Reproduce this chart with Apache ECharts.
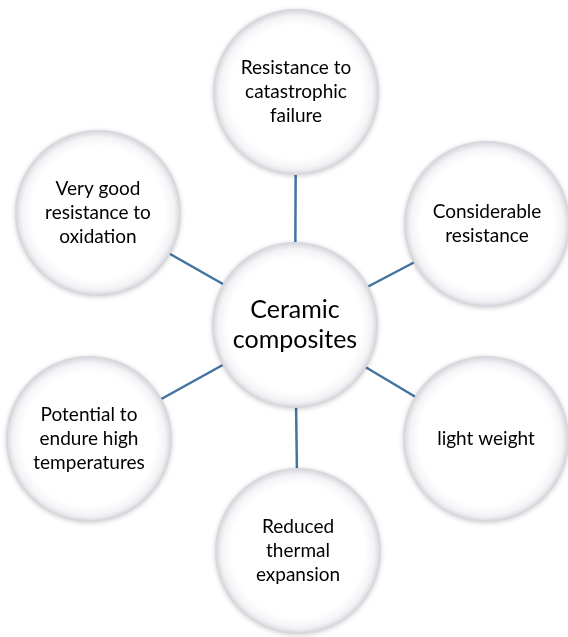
<!DOCTYPE html>
<html><head><meta charset="utf-8">
<script src="https://cdn.jsdelivr.net/npm/echarts@6/dist/echarts.min.js"></script>
<style>html,body{margin:0;padding:0;background:#fff}#c{width:568px;height:637px}</style>
</head><body><div id="c"></div>
<script>
// node labels
const labels = [
  "Ceramic\ncomposites",
  "Resistance to\ncatastrophic\nfailure",
  "Considerable\nresistance",
  "light weight",
  "Reduced\nthermal\nexpansion",
  "Potential to\nendure high\ntemperatures",
  "Very good\nresistance to\noxidation"
];
// node positions in the diagram's coordinate space
const nodeX = [295, 296, 487, 486, 298, 89, 98];
const nodeY = [325, 92, 224, 439, 551, 439, 213];
// links: from centre node to each outer node
const linkTargets = [1, 2, 3, 4, 5, 6];

const fill = {
  type: 'radial', x: 0.5, y: 0.5, r: 0.5,
  colorStops: [
    {offset: 0, color: '#ffffff'},
    {offset: 0.8, color: '#ffffff'},
    {offset: 0.92, color: '#f4f4f7'},
    {offset: 0.98, color: '#e8e8ed'},
    {offset: 1, color: '#dcdce2'}
  ]
};

const data = labels.map((name, i) => ({
  name: name,
  value: [nodeX[i], nodeY[i]],
  symbolSize: 164,
  label: {
    show: true,
    formatter: name,
    color: '#000',
    fontFamily: 'Lato',
    fontSize: i === 0 ? 25 : 19,
    lineHeight: i === 0 ? 30 : 24,
    align: 'center'
  }
}));

const links = linkTargets.map(t => ({source: 0, target: t}));

const chart = echarts.init(document.getElementById('c'));
chart.setOption({
  animation: false,
  backgroundColor: '#fff',
  grid: {left: 0, right: 0, top: 0, bottom: 0},
  xAxis: {type: 'value', min: 0, max: 568, show: false},
  yAxis: {type: 'value', min: 0, max: 637, inverse: true, show: false},
  series: [{
    type: 'graph',
    coordinateSystem: 'cartesian2d',
    symbol: 'circle',
    data: data,
    links: links,
    itemStyle: {
      color: fill,
      borderColor: '#d8d8de',
      borderWidth: 2,
      shadowBlur: 5,
      shadowColor: 'rgba(0,0,0,0.15)',
      shadowOffsetY: 1
    },
    lineStyle: {color: '#4473a0', width: 2.5, opacity: 1},
    label: {show: true, position: 'inside'},
    emphasis: {disabled: true}
  }]
});
</script></body></html>
